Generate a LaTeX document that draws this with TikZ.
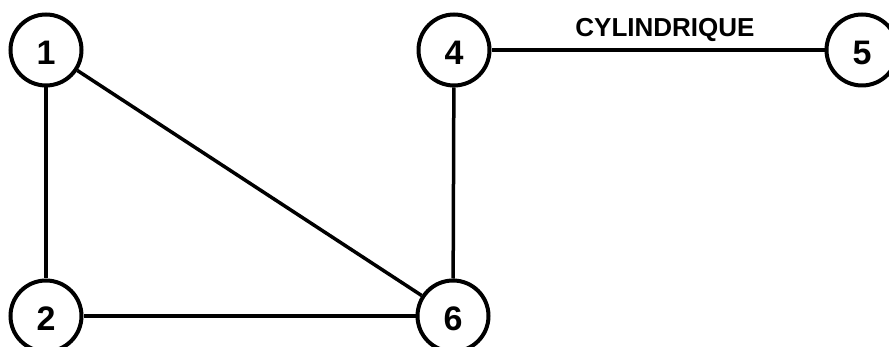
\documentclass[tikz,border=0pt]{standalone}
\usepackage{fontspec}
\setmainfont{Liberation Sans}
\begin{document}
\begin{tikzpicture}[x=1pt,y=-1pt,
  vertex/.style={circle,draw,line width=4pt,minimum size=71pt,inner sep=0pt,
    text height=29pt,text depth=0pt,
    font=\fontsize{34}{34}\selectfont\bfseries},
  edge/.style={line width=3.5pt},
  edgelabel/.style={font=\fontsize{26}{26}\selectfont\bfseries,inner sep=0pt}]
  \useasboundingbox (0,0) rectangle (889,347);
  \node[vertex] (n1) at (46,50) {1};
  \node[vertex] (n2) at (46,316) {2};
  \node[vertex] (n6) at (453,316) {6};
  \node[vertex] (n4) at (454,50) {4};
  \node[vertex] (n5) at (862,50) {5};
  \draw[edge] (n1) -- (n2);
  \draw[edge] (n1) -- (n6);
  \draw[edge] (n2) -- (n6);
  \draw[edge] (n4) -- (n6);
  \draw[edge] (n4) -- (n5);
  \node[edgelabel,anchor=base] (lbl) at (665,37) {CYLINDRIQUE};
\end{tikzpicture}
\end{document}
